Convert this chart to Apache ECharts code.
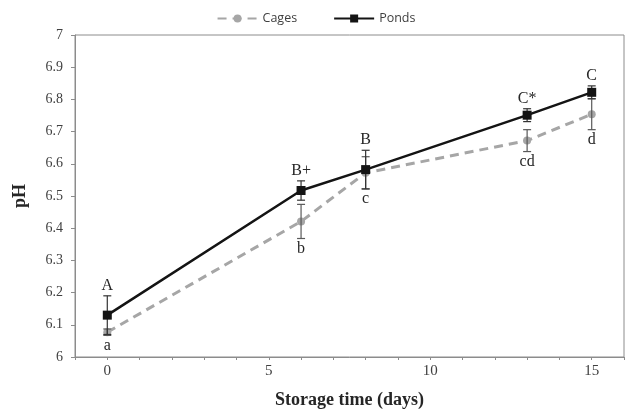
<!DOCTYPE html>
<html>
<head>
<meta charset="utf-8">
<script src="https://cdn.jsdelivr.net/npm/echarts@6/dist/echarts.min.js"></script>
<style>html,body{margin:0;padding:0;background:#fff}#c{width:632px;height:414px}</style>
</head>
<body>
<div id="c"></div>
<script>
var days = [0, 6, 8, 13, 15];
var cagesValues = [6.077, 6.421, 6.572, 6.672, 6.754];
var cagesErrors = [0.01, 0.053, 0.05, 0.034, 0.048];
var cagesLetters = ['a', 'b', 'c', 'cd', 'd'];
var pondsValues = [6.13, 6.517, 6.582, 6.751, 6.822];
var pondsErrors = [0.06, 0.03, 0.06, 0.02, 0.02];
var pondsLetters = ['A', 'B+', 'B', 'C*', 'C'];
var xTickLabels = ['0', '5', '10', '15'];

var chart = echarts.init(document.getElementById('c'));
function pairs(vals){ return days.map(function(d,i){ return [d, vals[i]]; }); }
function errData(vals, errs, letters){ return days.map(function(d,i){ return [d, vals[i], errs[i], letters[i]]; }); }
function errRender(color, above){
  return function(params, api){
    var x = api.value(0), v = api.value(1), e = api.value(2);
    var letter = (above ? pondsLetters : cagesLetters)[params.dataIndex];
    var hi = api.coord([x, v + e]), lo = api.coord([x, v - e]);
    var cap = 4;
    var st = {stroke: color, lineWidth: 1.2};
    var ty = above ? hi[1] - 2 : lo[1] + 2;
    return {type:'group', children:[
      {type:'line', shape:{x1:hi[0], y1:hi[1], x2:lo[0], y2:lo[1]}, style:st},
      {type:'line', shape:{x1:hi[0]-cap, y1:hi[1], x2:hi[0]+cap, y2:hi[1]}, style:st},
      {type:'line', shape:{x1:lo[0]-cap, y1:lo[1], x2:lo[0]+cap, y2:lo[1]}, style:st},
      {type:'text', style:{text: letter, x: hi[0], y: ty, align:'center', verticalAlign: above ? 'bottom' : 'top', font:'16px "Liberation Serif"', fill:'#262626'}}
    ]};
  };
}
chart.setOption({
  animation: false,
  textStyle: {fontFamily: 'Liberation Serif'},
  legend: {
    data: [{name:'Cages'}, {name:'Ponds'}],
    top: 7, left: 'center', itemWidth: 40, itemHeight: 10, itemGap: 36,
    textStyle: {fontFamily:'Open Sans', fontSize: 12.5, color:'#404040'}
  },
  grid: {left: 75, right: 8, top: 35, bottom: 56, show: true, borderColor: '#8c8c8c', borderWidth: 1},
  xAxis: {
    type: 'value', min: -1, max: 16, interval: 1,
    name: 'Storage time (days)', nameLocation: 'middle', nameGap: 34,
    nameTextStyle: {fontFamily:'Liberation Serif', fontWeight:'bold', fontSize:18, color:'#262626'},
    axisLine: {show:true, onZero:false, lineStyle:{color:'#8c8c8c'}},
    axisTick: {show:true, length:3, lineStyle:{color:'#8c8c8c'}},
    splitLine: {show:false},
    axisLabel: {
      margin: 7, fontFamily:'Liberation Serif', fontSize:15, color:'#404040',
      formatter: function(v){ var i = xTickLabels.indexOf(String(v)); return i >= 0 ? xTickLabels[i] : ''; }
    }
  },
  yAxis: {
    type: 'value', min: 6, max: 7, interval: 0.1,
    name: 'pH', nameLocation: 'middle', nameGap: 46, nameRotate: 90,
    nameTextStyle: {fontFamily:'Liberation Serif', fontWeight:'bold', fontSize:18, color:'#262626'},
    axisLine: {show:true, onZero:false, lineStyle:{color:'#8c8c8c'}},
    axisTick: {show:true, length:4, lineStyle:{color:'#8c8c8c'}},
    splitLine: {show:false},
    axisLabel: {margin: 12, fontFamily:'Liberation Serif', fontSize:14, color:'#404040',
      formatter: function(v){ return String(Math.round(v*10)/10); }}
  },
  series: [
    {name:'Cages', type:'line', data: pairs(cagesValues), z: 2,
      symbol:'circle', symbolSize: 8,
      lineStyle:{color:'#a6a6a6', width:3, type:[9,6]},
      itemStyle:{color:'#a6a6a6'}},
    {name:'CagesErr', type:'custom', data: errData(cagesValues, cagesErrors, cagesLetters), z: 3,
      encode:{x:0, y:1}, renderItem: errRender('#595959', false)},
    {name:'Ponds', type:'line', data: pairs(pondsValues), z: 5,
      symbol:'rect', symbolSize: 9,
      lineStyle:{color:'#141414', width:2.5},
      itemStyle:{color:'#141414'}},
    {name:'PondsErr', type:'custom', data: errData(pondsValues, pondsErrors, pondsLetters), z: 4,
      encode:{x:0, y:1}, renderItem: errRender('#333333', true)}
  ]
});
</script>
</body>
</html>
